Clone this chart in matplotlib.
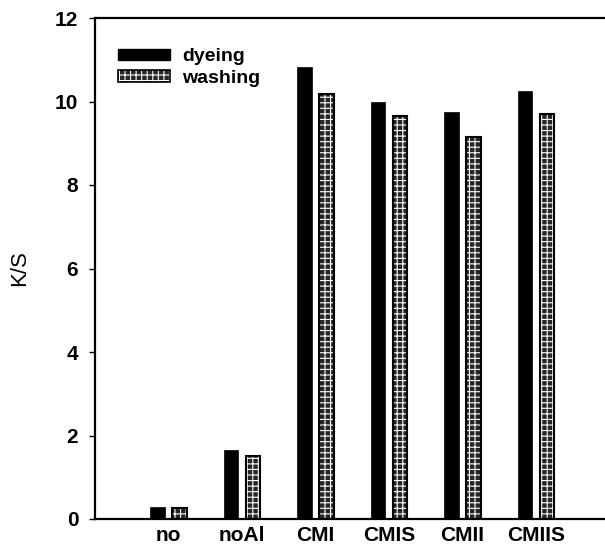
import matplotlib
matplotlib.use("Agg")
import matplotlib.pyplot as plt
import numpy as np
from matplotlib.patches import Patch

categories = ["no", "noAl", "CMI", "CMIS", "CMII", "CMIIS"]
dyeing = [0.29, 1.65, 10.83, 9.99, 9.75, 10.25]
washing = [0.27, 1.52, 10.18, 9.65, 9.15, 9.70]
yticks = [0, 2, 4, 6, 8, 10, 12]

plt.rcParams['font.family'] = ['Liberation Sans', 'DejaVu Sans']
plt.rcParams['hatch.linewidth'] = 0.8

fig = plt.figure(figsize=(6.05, 5.51), dpi=100)
ax = fig.add_axes([95/605, 1-519/551, 1-95/605, (519-18)/551])

x = np.arange(len(categories))
w = 0.2
off = 0.15
hface = '#262626'
ax.bar(x - off, dyeing, width=w, color='black', edgecolor='black', linewidth=0.5)
ax.bar(x + off, washing, width=w, facecolor=hface, edgecolor='white', hatch='+++', linewidth=0)
ax.bar(x + off, washing, width=w, fill=False, edgecolor='black', linewidth=1.5)

ax.set_xlim(-1.0, 5.94)
ax.set_ylim(0, 12)
ax.set_yticks(yticks)
ax.set_yticklabels([str(t) for t in yticks], fontsize=15, fontweight='bold')
ax.set_xticks(x)
ax.set_xticklabels(categories, fontsize=15, fontweight='bold')
ax.tick_params(axis='x', length=0, pad=5)
ax.tick_params(axis='y', length=4, width=1, direction='out', pad=8)
ax.set_ylabel("K/S", fontsize=16, labelpad=18)

for s in ['left', 'bottom', 'top']:
    ax.spines[s].set_linewidth(1.6)
ax.spines['right'].set_visible(False)

h1 = Patch(facecolor='black', edgecolor='black')
h2a = Patch(facecolor=hface, edgecolor='white', hatch='+++', linewidth=0)
h2b = Patch(fill=False, edgecolor='black', linewidth=1.2)
ax.legend([h1, (h2a, h2b)], ["dyeing", "washing"], loc='upper left',
          bbox_to_anchor=(0.01, 0.975), frameon=False,
          prop={'size': 14, 'weight': 'bold'}, handlelength=2.7, handleheight=0.5,
          handletextpad=0.6, labelspacing=0.25)

fig.savefig("out.png", dpi=100)
